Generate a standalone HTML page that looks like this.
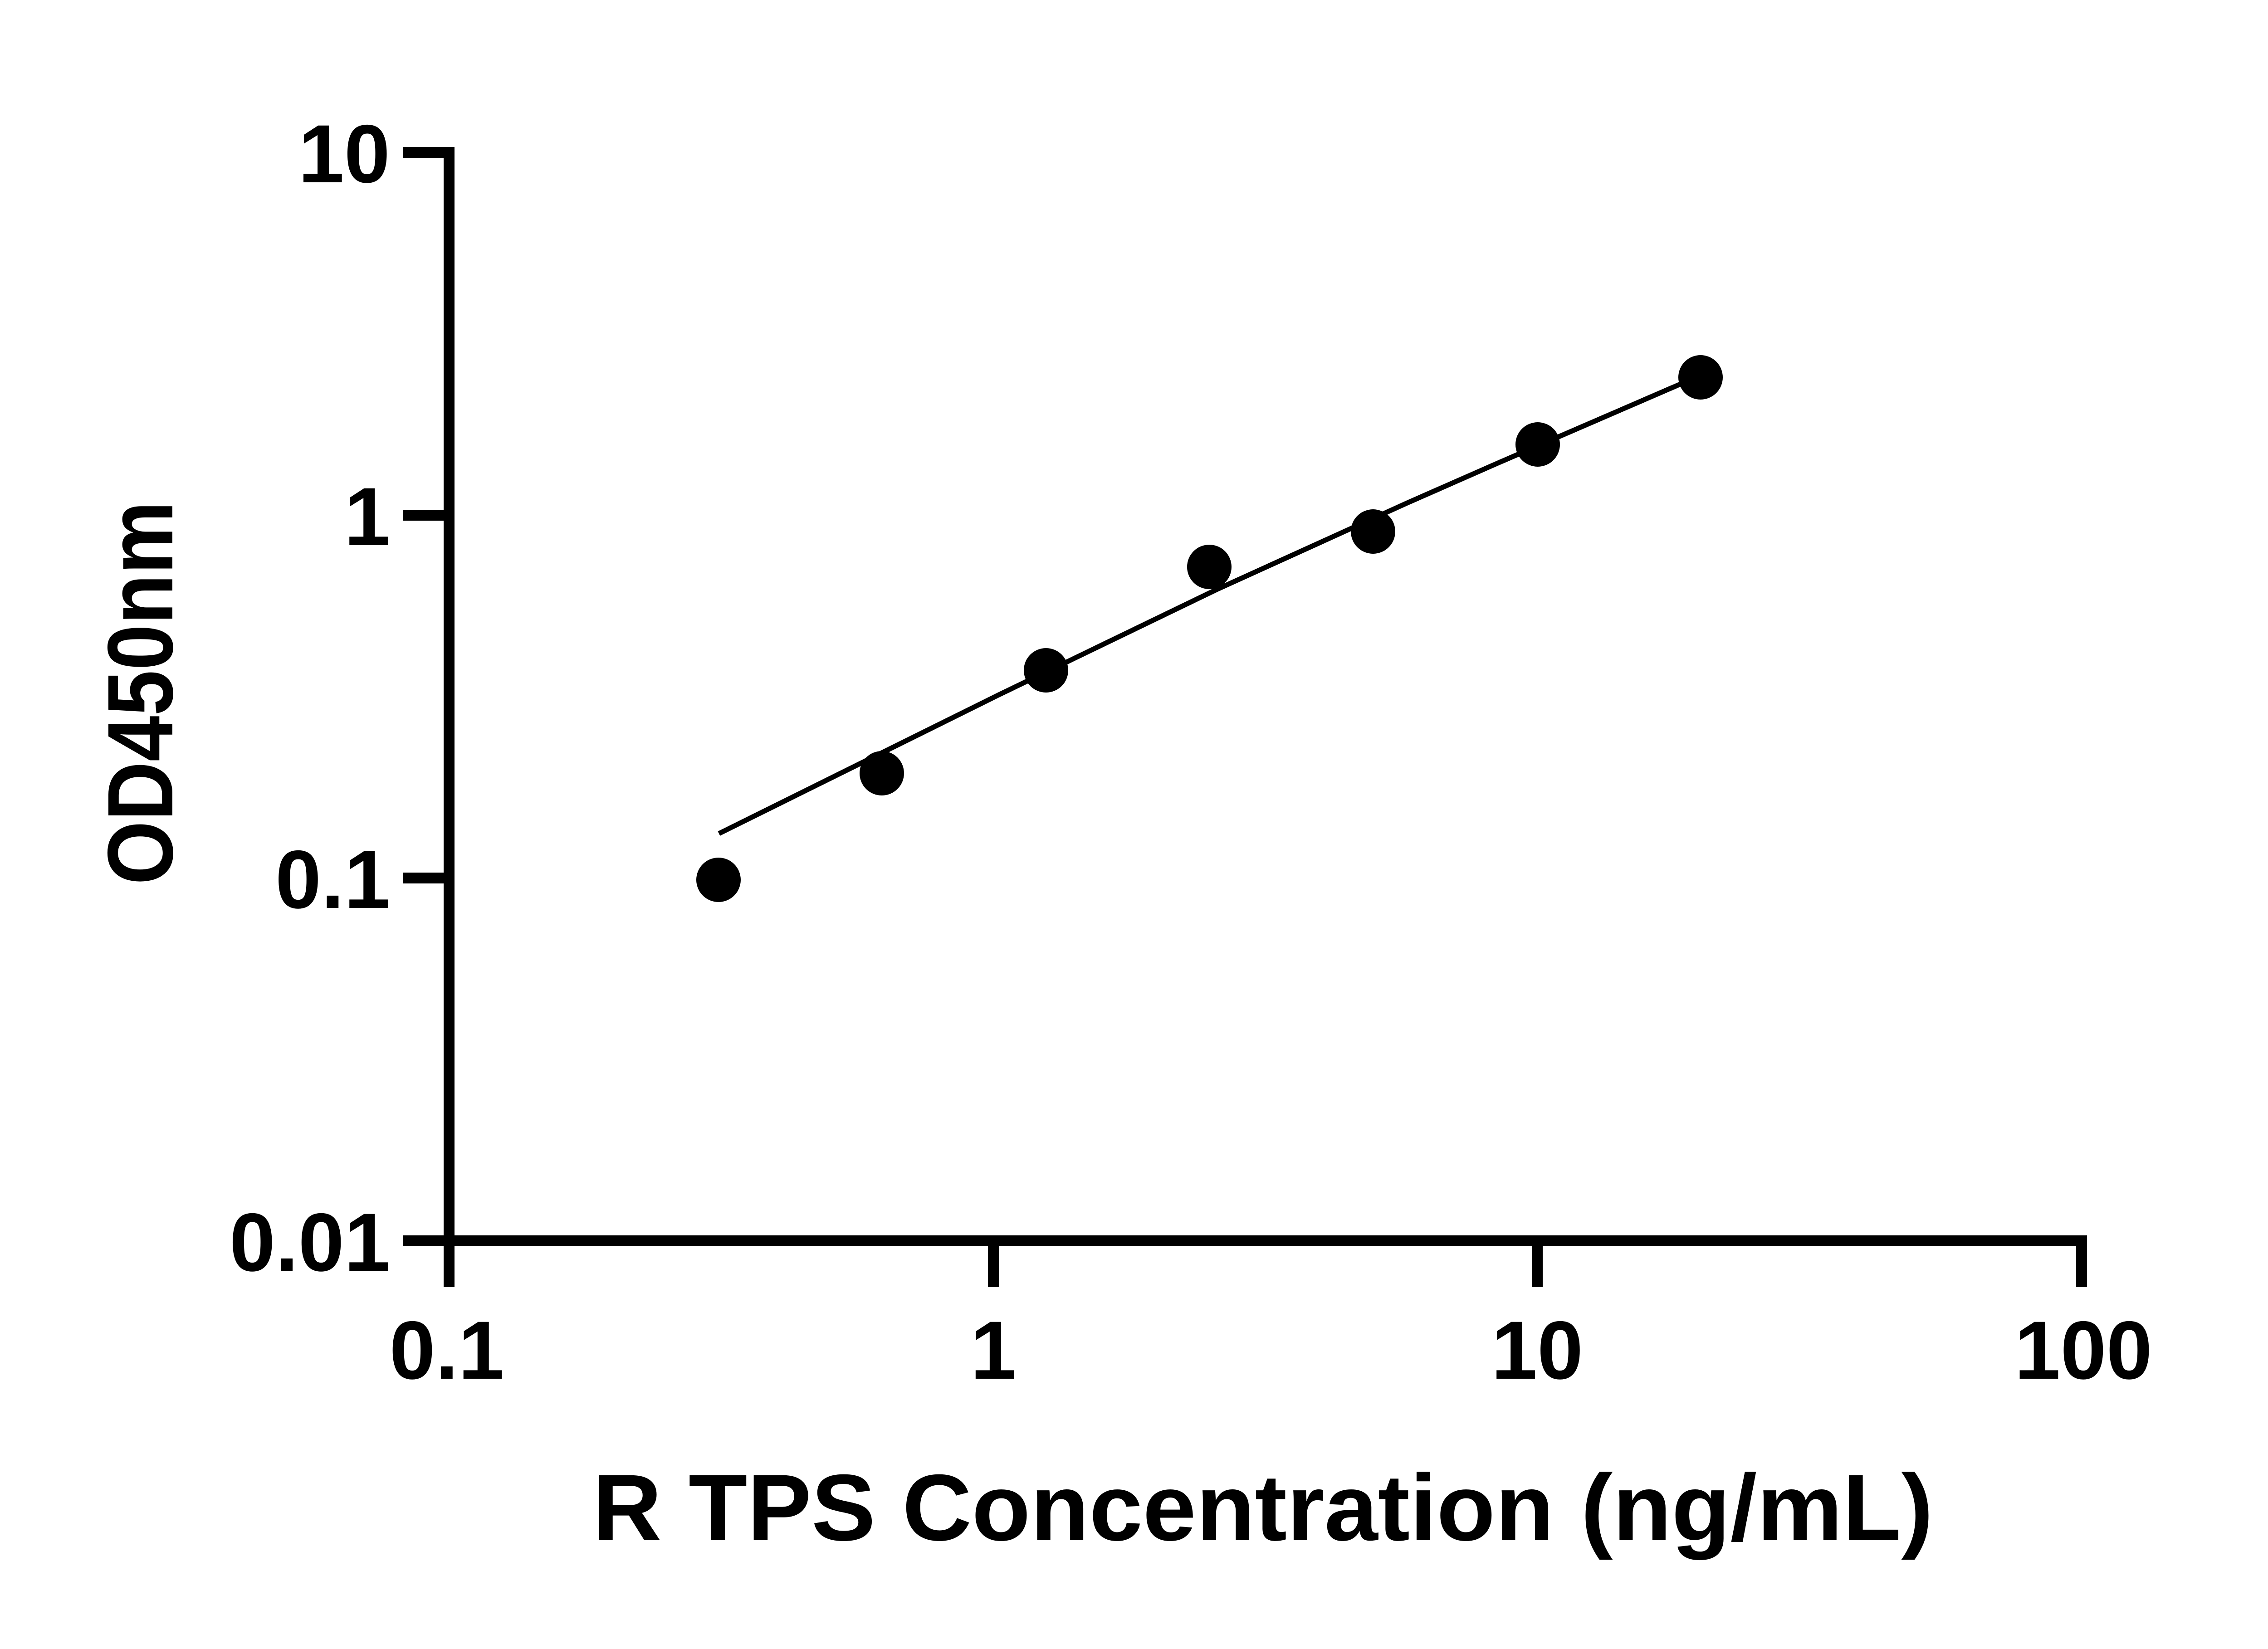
<!DOCTYPE html>
<html><head><meta charset="utf-8"><style>html,body{margin:0;padding:0;background:#fff}svg{display:block}</style></head>
<body>
<svg width="5142" height="3636" viewBox="0 0 5142 3636" xmlns="http://www.w3.org/2000/svg">
<rect width="5142" height="3636" fill="#fff"/>
<g stroke="#000" stroke-width="24" fill="none" stroke-linecap="butt">
  <path d="M888 336 H990 V2736 H4589 V2838"/>
  <line x1="888" y1="1136" x2="990" y2="1136"/>
  <line x1="888" y1="1936" x2="990" y2="1936"/>
  <line x1="888" y1="2736" x2="990" y2="2736"/>
  <line x1="990" y1="2736" x2="990" y2="2838"/>
  <line x1="2190" y1="2736" x2="2190" y2="2838"/>
  <line x1="3389" y1="2736" x2="3389" y2="2838"/>
</g>
<path d="M1585 1838 L2200 1533 L2682 1300 L3100 1110 L3300 1022 L3702 848 L3745 830" stroke="#000" stroke-width="11" fill="none"/>
<g fill="#000">
  <circle cx="1584" cy="1940" r="49"/>
  <circle cx="1944" cy="1705" r="49"/>
  <circle cx="2306" cy="1478" r="49"/>
  <circle cx="2666" cy="1250" r="49"/>
  <circle cx="3027" cy="1172" r="49"/>
  <circle cx="3390" cy="980" r="49"/>
  <circle cx="3749" cy="832" r="49"/>
</g>
<g font-family="Liberation Sans, Arial, sans-serif" font-weight="bold" font-size="182" fill="#000">
  <text x="860" y="402" text-anchor="end">10</text>
  <text x="860" y="1202" text-anchor="end">1</text>
  <text x="860" y="2002" text-anchor="end">0.1</text>
  <text x="860" y="2802" text-anchor="end">0.01</text>
  <text x="985" y="3040" text-anchor="middle">0.1</text>
  <text x="2190" y="3040" text-anchor="middle">1</text>
  <text x="3389" y="3040" text-anchor="middle">10</text>
  <text x="4593" y="3040" text-anchor="middle">100</text>
</g>
<text x="1306" y="3396" font-family="Liberation Sans, Arial, sans-serif" font-weight="bold" font-size="208" textLength="2956" lengthAdjust="spacingAndGlyphs">R TPS Concentration (ng/mL)</text>
<text transform="translate(380,1951) rotate(-90)" x="0" y="0" font-family="Liberation Sans, Arial, sans-serif" font-weight="bold" font-size="205" textLength="846" lengthAdjust="spacingAndGlyphs">OD450nm</text>
</svg>
</body></html>
